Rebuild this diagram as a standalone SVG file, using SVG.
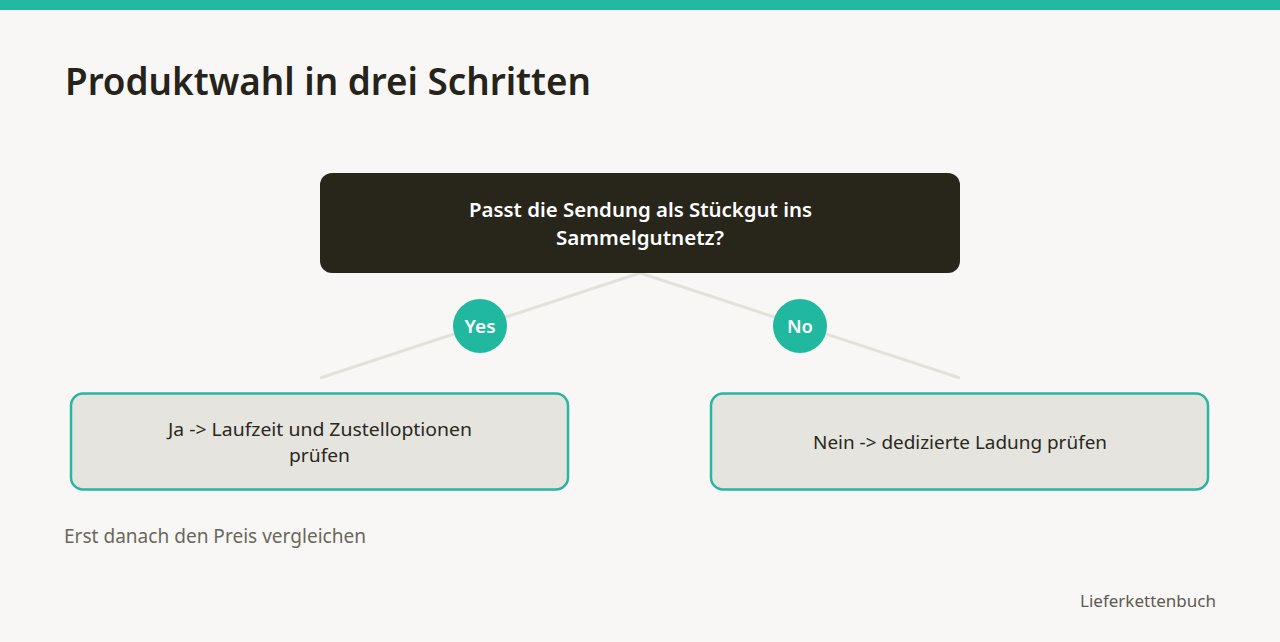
<svg xmlns="http://www.w3.org/2000/svg" width="1280" height="642" viewBox="0 0 1280 642">
<style>
.t{font-family:"Noto Sans","Open Sans","Liberation Sans",sans-serif}
.title{font-size:38px;font-weight:600;fill:#25231a}
.q{font-size:20px;font-weight:600;fill:#ffffff}
.lbl{font-size:18px;fill:#2a2820}
.pill{font-size:18px;font-weight:600;fill:#ffffff}
.note{font-size:19px;fill:#6b675c}
.brand{font-size:17px;fill:#5e5a50}
.box{fill:#e5e4df;stroke:#2bb5a0;stroke-width:2.5}
.conn{stroke:#e4e1da;stroke-width:3;fill:none}
.badge{fill:#21b8a0}
</style>
<rect width="1280" height="642" fill="#f8f7f5"/>
<rect width="1280" height="10" fill="#21b9a1"/>
<text class="t title" x="65" y="95" textLength="526" lengthAdjust="spacingAndGlyphs">Produktwahl in drei Schritten</text>
<g id="connectors">
<line class="conn" x1="640" y1="273" x2="320" y2="378"/>
<line class="conn" x1="640" y1="273" x2="960" y2="378"/>
</g>
<g id="question">
<rect x="320" y="173" width="640" height="100" rx="12" fill="#28251b"/>
<text class="t q" x="640.5" y="217" text-anchor="middle" textLength="343" lengthAdjust="spacingAndGlyphs">Passt die Sendung als Stückgut ins</text>
<text class="t q" x="640" y="245" text-anchor="middle" textLength="168" lengthAdjust="spacingAndGlyphs">Sammelgutnetz?</text>
</g>
<g id="yes">
<circle class="badge" cx="480" cy="326" r="27"/>
<text class="t pill" x="480" y="333" text-anchor="middle" textLength="31" lengthAdjust="spacingAndGlyphs">Yes</text>
</g>
<g id="no">
<circle class="badge" cx="800" cy="326" r="27"/>
<text class="t pill" x="800" y="333" text-anchor="middle" textLength="26" lengthAdjust="spacingAndGlyphs">No</text>
</g>
<g id="ja">
<rect class="box" x="71" y="393.5" width="497" height="96" rx="12"/>
<text class="t lbl" x="320" y="436" text-anchor="middle" textLength="304" lengthAdjust="spacingAndGlyphs">Ja -&gt; Laufzeit und Zustelloptionen</text>
<text class="t lbl" x="319.5" y="462" text-anchor="middle" textLength="61" lengthAdjust="spacingAndGlyphs">prüfen</text>
</g>
<g id="nein">
<rect class="box" x="711" y="393.5" width="497" height="96" rx="12"/>
<text class="t lbl" x="960" y="449" text-anchor="middle" textLength="294" lengthAdjust="spacingAndGlyphs">Nein -&gt; dedizierte Ladung prüfen</text>
</g>
<text class="t note" x="64" y="543" textLength="302" lengthAdjust="spacingAndGlyphs">Erst danach den Preis vergleichen</text>
<text class="t brand" x="1216" y="607" text-anchor="end" textLength="136" lengthAdjust="spacingAndGlyphs">Lieferkettenbuch</text>
</svg>
